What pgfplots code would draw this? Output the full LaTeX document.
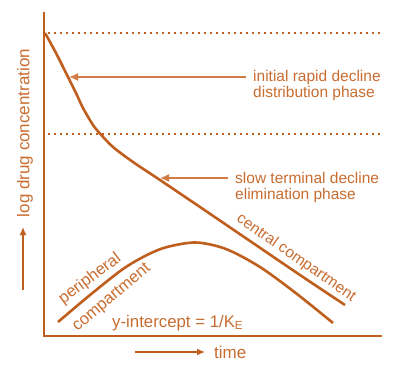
\documentclass[border=0pt]{standalone}
\usepackage{pgfplots}
\pgfplotsset{compat=1.18}
\usepackage{fontspec}
\setmainfont{Liberation Sans}
\usetikzlibrary{arrows.meta}
\definecolor{brn}{RGB}{192,94,30}
\definecolor{brt}{RGB}{200,108,48}
\definecolor{brl}{RGB}{208,122,70}
\begin{document}
\begin{tikzpicture}
\begin{axis}[
  name=main,
  scale only axis, width=394bp, height=365bp,
  xmin=0, xmax=394, ymin=0, ymax=365, y dir=reverse,
  hide axis, clip=false,
]
% axes
\addplot[brn, line width=1.6bp, mark=none] coordinates {(44,12) (44,336) (382,336)};
% dotted guide lines
\addplot[brn, line width=1.7bp, dash pattern=on 1.7bp off 4.3bp, mark=none] coordinates {(48,33) (380,33)};
\addplot[brn, line width=1.7bp, dash pattern=on 1.7bp off 4.3bp, mark=none] coordinates {(48,134) (380,134)};
% central compartment curve
\addplot[brn, line width=2.6bp, smooth, tension=0.5, mark=none] coordinates {
(45,33) (56,53) (68,77) (76,93) (83,108) (93,125) (100,133.5) (113,147) (133,162) (160,180) (200,207) (250,241) (300,275) (345,305)};
% peripheral compartment curve
\addplot[brn, line width=2.6bp, smooth, mark=none] coordinates {
(58,322) (90,295) (123,269) (147,255) (167,247) (196,242.5) (226,249) (260,267) (297,294) (333,323)};
% annotation arrows
\addplot[brl, line width=1.5bp, mark=none, -{Latex[length=9bp,width=8bp]}] coordinates {(246,77) (69,77)};
\addplot[brl, line width=1.5bp, mark=none, -{Latex[length=9bp,width=8bp]}] coordinates {(228,178) (160,178)};
% axis direction arrows
\addplot[brn, line width=1.5bp, mark=none, -{Latex[length=8bp,width=7bp]}] coordinates {(23,290) (23,227)};
\addplot[brn, line width=1.5bp, mark=none, -{Latex[length=8bp,width=7bp]}] coordinates {(135,352) (205,352)};
% texts
\node[anchor=west, align=left, text=brt, font=\fontsize{15.5bp}{16bp}\selectfont, inner sep=0pt] at (axis cs:253,85) {initial rapid decline\\distribution phase};
\node[anchor=west, align=left, text=brt, font=\fontsize{15.5bp}{16bp}\selectfont, inner sep=0pt] at (axis cs:235,187) {slow terminal decline\\elimination phase};
\node[rotate=90, text=brt, font=\fontsize{17bp}{19bp}\selectfont, inner sep=0pt] at (axis cs:25,133) {log drug concentration};
\node[anchor=west, text=brt, font=\fontsize{17bp}{19bp}\selectfont, inner sep=0pt] at (axis cs:214,352) {time};
\node[anchor=west, text=brt, font=\fontsize{16.8bp}{19bp}\selectfont, inner sep=0pt] at (axis cs:112,323) {y-intercept = 1/K\textsubscript{E}};
\node[rotate=-34.9, text=brt, font=\fontsize{15.5bp}{18bp}\selectfont, inner sep=0pt] at (axis cs:296,258) {central compartment};
\node[rotate=37, text=brt, font=\fontsize{16.5bp}{18bp}\selectfont, inner sep=0pt] at (axis cs:90,279) {peripheral};
\node[rotate=40, text=brt, font=\fontsize{16.5bp}{18bp}\selectfont, inner sep=0pt] at (axis cs:112,298) {compartment};
\end{axis}
\path (main.south west) rectangle (main.north east);
\end{tikzpicture}
\end{document}
